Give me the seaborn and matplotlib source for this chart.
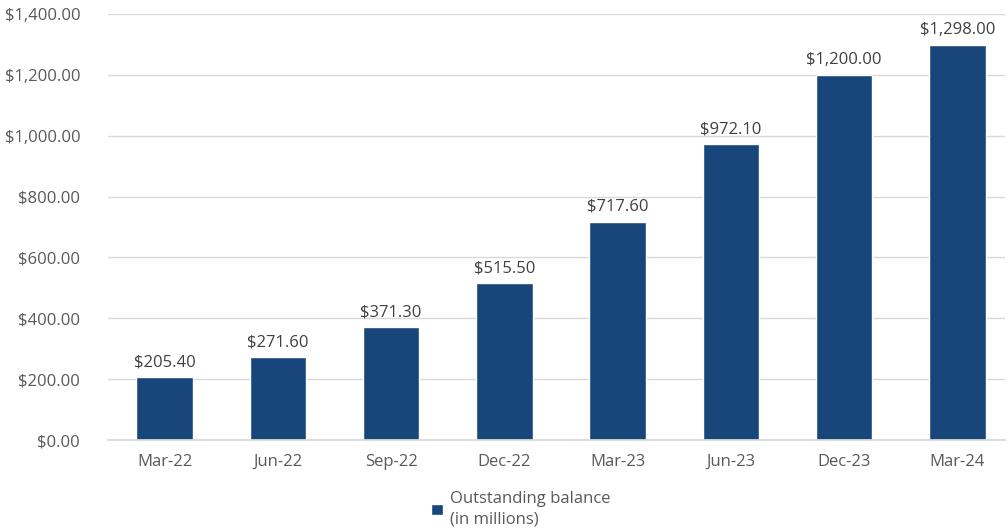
import matplotlib
matplotlib.use("Agg")
import matplotlib.pyplot as plt
import seaborn as sns
import pandas as pd

categories = ["Mar-22", "Jun-22", "Sep-22", "Dec-22", "Mar-23", "Jun-23", "Dec-23", "Mar-24"]
values = [205.40, 271.60, 371.30, 515.50, 717.60, 972.10, 1200.00, 1298.00]
series_name = "Outstanding balance\n(in millions)"
y_ticks = [0, 200, 400, 600, 800, 1000, 1200, 1400]

sns.set_theme(style="white")
plt.rcParams['font.family'] = ['Open Sans', 'DejaVu Sans']

df = pd.DataFrame({"period": categories, "value": values, "series": series_name})

fig = plt.figure(figsize=(10.08, 5.31), dpi=100)
ax = fig.add_axes([108/1008, 1-440/531, (1005-108)/1008, (440-14)/531])

bar_color = "#18467a"
sns.barplot(data=df, x="period", y="value", hue="series", palette=[bar_color],
            width=0.5, ax=ax, legend=True, saturation=1)

ax.set_ylim(0, 1400)
ax.set_xlim(-0.5, 7.42)
ax.set_yticks(y_ticks)
ax.set_yticklabels([f"${v:,.2f}" for v in y_ticks])
ax.yaxis.grid(True, color="#d9d9d9", linewidth=1)
ax.set_axisbelow(True)
for s in ["top", "right", "left"]:
    ax.spines[s].set_visible(False)
ax.spines["bottom"].set_color("#d9d9d9")
ax.tick_params(axis="both", colors="#595959", labelsize=12, length=0)
ax.tick_params(axis="x", pad=10)
ax.tick_params(axis="y", pad=20)
ax.set_xlabel("")
ax.set_ylabel("")

for i, v in enumerate(values):
    ax.annotate(f"${v:,.2f}", (i, v), xytext=(0, 5), textcoords="offset points",
                ha="center", va="bottom", fontsize=12, color="#404040")

leg = ax.legend(loc="upper center", bbox_to_anchor=(0.46, -0.085), frameon=False,
                fontsize=12, handlelength=0.7, handleheight=0.7, handletextpad=0.4)
for t in leg.get_texts():
    t.set_color("#595959")
    t.set_linespacing(1.35)

fig.savefig("out.png", dpi=100)
